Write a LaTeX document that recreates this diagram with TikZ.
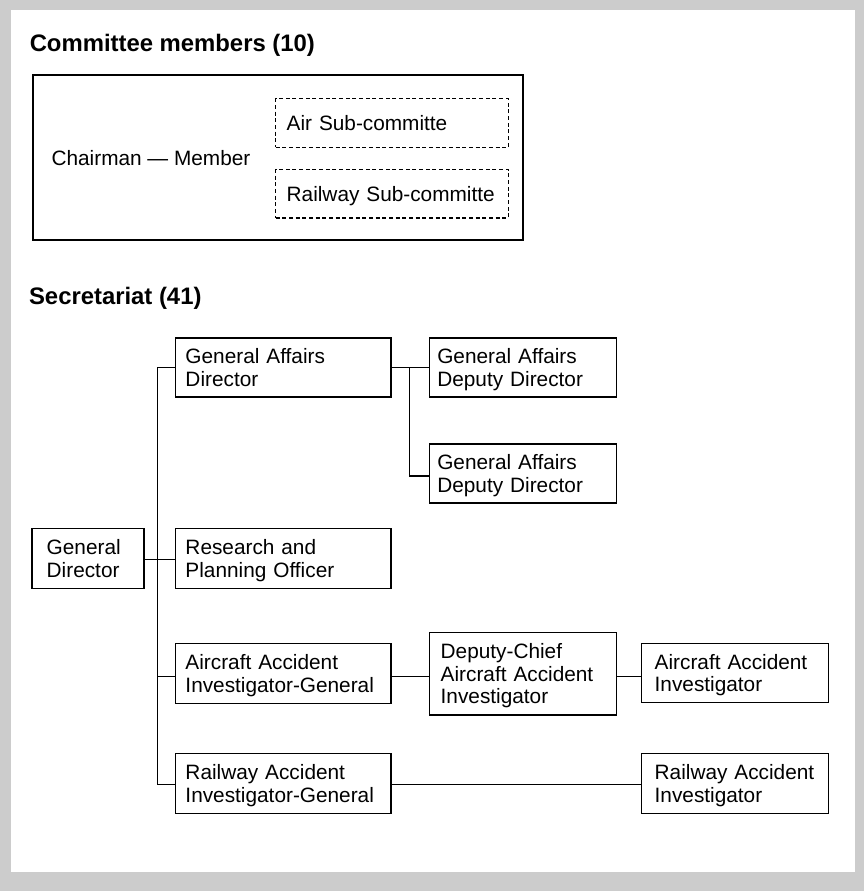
\documentclass[tikz,border=0pt]{standalone}
\usepackage{fontspec}
\setmainfont{Liberation Sans}
\newcommand\lastln[1]{\raisebox{0pt}[\height][0pt]{#1}}
\definecolor{bggray}{RGB}{204,204,204}
\begin{document}
\begin{tikzpicture}[x=0.75pt, y=-0.75pt,
  box/.style={draw, line width=1pt, inner sep=0pt, align=left, font=\fontsize{15.6}{16.9}\selectfont},
  dbox/.style={draw, dash pattern=on 3pt off 2pt, line width=1pt, inner sep=0pt, align=left, font=\fontsize{15.6}{16.9}\selectfont},
  ttl/.style={anchor=base west, inner sep=0pt, font=\bfseries\fontsize{17.9}{20}\selectfont},
  plain/.style={anchor=base west, inner sep=0pt, font=\fontsize{15.6}{16.9}\selectfont},
  conn/.style={line width=1pt}
]
\useasboundingbox (0,0) rectangle (864,891);
\fill[bggray] (0,0) rectangle (864,891);
\fill[white] (11,10) rectangle (855,872);

% Committee members
\node[ttl] (t1) at (29.5,51.7) {Committee members (10)};
\node[draw, line width=1.5pt, minimum width=367.5pt, minimum height=123.75pt, inner sep=0pt] (cm) at (277.7,157.5) {};
\node[plain] (chair) at (51.3,165.7) {Chairman --- Member};
\node[dbox, minimum width=174.45pt, minimum height=36.45pt, text width=158pt] (air) at (392,123) {\lastln{Air Sub-committe}};
\node[dbox, minimum width=174.45pt, minimum height=36.45pt, text width=158pt] (rail) at (392,193.65) {\lastln{Railway Sub-committe}};

% Secretariat
\node[ttl] (t2) at (28.8,304) {Secretariat (41)};

\node[box, minimum width=84pt, minimum height=45pt, text width=61.95pt] (gd) at (88,558.3) {General\\\lastln{Director}};
\node[box, minimum width=161.5pt, minimum height=44.25pt, text width=146.8pt] (gad) at (283.35,367.5) {General Affairs\\\lastln{Director}};
\node[box, minimum width=161.5pt, minimum height=45pt, text width=146.8pt] (rpo) at (283.35,558.3) {Research and\\\lastln{Planning Officer}};
\node[box, minimum width=161.5pt, minimum height=45pt, text width=146.8pt] (aaig) at (283.35,673.2) {Aircraft Accident\\\lastln{Investigator-General}};
\node[box, minimum width=161.5pt, minimum height=45pt, text width=146.8pt] (raig) at (283.35,783.3) {Railway Accident\\\lastln{Investigator-General}};
\node[box, minimum width=140.55pt, minimum height=44.25pt, text width=128.55pt] (gad1) at (523,367.5) {General Affairs\\\lastln{Deputy Director}};
\node[box, minimum width=140.55pt, minimum height=44.25pt, text width=128.55pt] (gad2) at (523,473.4) {General Affairs\\\lastln{Deputy Director}};
\node[box, minimum width=140.55pt, minimum height=61.7pt, text width=123.45pt] (dcaai) at (523,673.8) {Deputy-Chief\\Aircraft Accident\\\lastln{Investigator}};
\node[box, minimum width=139.95pt, minimum height=44.55pt, text width=120.45pt] (aai) at (735,673) {Aircraft Accident\\\lastln{Investigator}};
\node[box, minimum width=139.95pt, minimum height=45pt, text width=120.45pt] (rai) at (735,783.3) {Railway Accident\\\lastln{Investigator}};

% connectors
\coordinate (tk) at (157.7,368);
\coordinate (gk) at (409.3,368);
\draw[conn] (gad.west) -- (gad.west -| tk) |- ([yshift=-0.75pt]raig.west);
\draw[conn] ([yshift=-0.75pt]gd.east) -- ([yshift=-0.75pt]gd.east -| rpo.west);
\draw[conn] ([yshift=-2.6pt]aaig.west) -- ([yshift=-2.6pt]aaig.west -| tk);
\draw[conn] (gad.east) -- (gad.east -| gad1.west);
\draw[conn] (gad.east -| gk) |- ([yshift=-1.9pt]gad2.west);
\draw[conn] ([yshift=-2.6pt]aaig.east) -- ([yshift=-2.6pt]aaig.east -| dcaai.west);
\draw[conn] ([yshift=-2.6pt]aaig.east -| dcaai.east) -- ([yshift=-2.6pt]aaig.east -| aai.west);
\draw[conn] ([yshift=-0.75pt]raig.east) -- ([yshift=-0.75pt]raig.east -| rai.west);
\end{tikzpicture}
\end{document}
